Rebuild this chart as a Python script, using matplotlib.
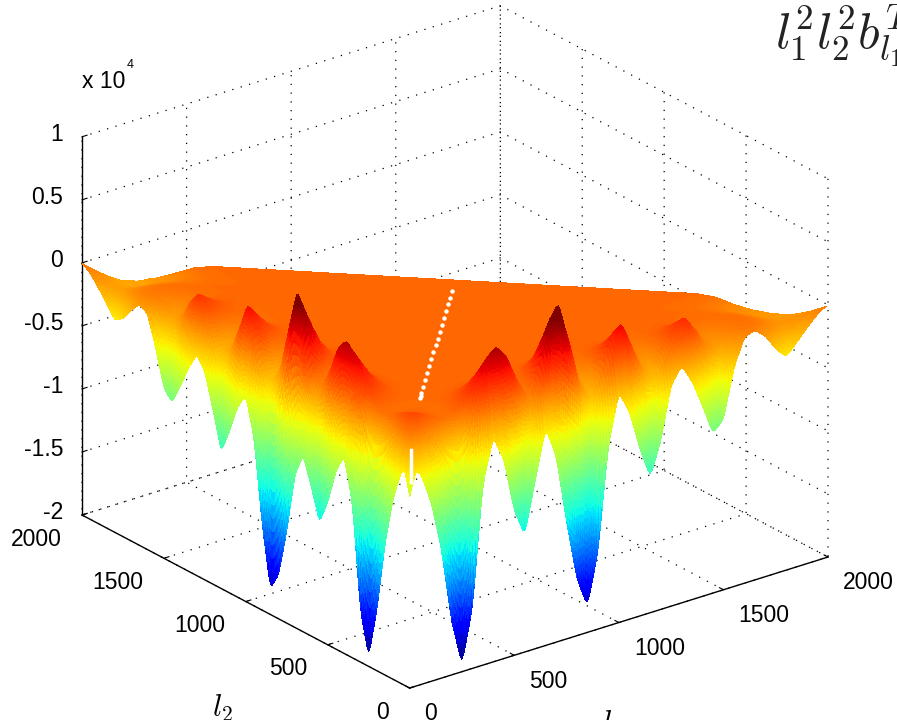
import numpy as np
import matplotlib
matplotlib.use('Agg')
import matplotlib.pyplot as plt
from matplotlib.transforms import ScaledTranslation
from mpl_toolkits.mplot3d import proj3d

plt.rcParams['font.family'] = ['Liberation Sans', 'DejaVu Sans']
plt.rcParams['mathtext.fontset'] = 'cm'

# depth along the two front edges of the surface, in units of 10^4, read every 50 in l
edge_l = np.arange(0, 2001, 50)
edge_l2 = [-0.25, -0.4, -0.62, -1.0, -1.55, -1.95, -1.62, -0.8, -0.47, -0.62,
           -0.9, -1.09, -0.85, -0.63, -0.82, -1.3, -1.68, -1.82, -1.35, -0.7,
           -0.4, -0.52, -0.75, -0.94, -0.65, -0.38, -0.28, -0.42, -0.6, -0.76,
           -0.68, -0.4, -0.16, -0.12, -0.2, -0.3, -0.34, -0.24, -0.14, -0.05, 0.0]
edge_l1 = [-0.25, -0.4, -0.62, -1.0, -1.6, -1.97, -1.55, -0.6, -0.25, -0.45,
           -0.88, -1.1, -0.7, -0.31, -0.55, -1.1, -1.58, -1.82, -1.42, -0.6,
           -0.21, -0.38, -0.7, -0.95, -0.7, -0.28, -0.15, -0.3, -0.52, -0.76,
           -0.68, -0.3, -0.08, -0.05, -0.12, -0.25, -0.33, -0.24, -0.14, -0.05, 0.0]
# height of the crests just behind the front edges
crest_l2 = [0.05, 0.05, 0.03, 0.0, -0.02, 0.0, 0.08, 0.2, 0.32, 0.39,
            0.3, 0.08, -0.08, 0.05, 0.42, 0.58, 0.25, -0.1, -0.25, -0.1,
            0.15, 0.27, 0.05, -0.15, -0.2, -0.05, 0.08, 0.15, 0.05, -0.1,
            -0.15, -0.1, -0.05, -0.04, -0.06, -0.08, -0.1, -0.08, -0.05, -0.02, 0.0]
crest_l1 = [0.05, 0.05, 0.03, 0.0, -0.02, 0.0, 0.08, 0.2, 0.33, 0.41,
            0.32, 0.1, -0.06, 0.08, 0.47, 0.6, 0.28, -0.08, -0.22, -0.08,
            0.18, 0.29, 0.08, -0.12, -0.18, -0.03, 0.1, 0.18, 0.06, -0.08,
            -0.13, -0.08, -0.03, -0.02, -0.04, -0.06, -0.08, -0.06, -0.04, -0.02, 0.0]
# how both profiles weigh with the distance d from the edge
fade_d = [0, 15, 30, 50, 80, 130, 180, 250]
edge_fade = [1.0, 0.55, 0.15, 0.0, 0.0, 0.0, 0.0, 0.0]
crest_fade = [0.0, 0.45, 0.85, 1.0, 0.75, 0.35, 0.1, 0.0]
# the flat part sits a little above zero
flat_z = 0.03
# sag of the far edge near the two end corners
sag_l = [0, 50, 100, 150, 200, 250, 300, 350]
sag_l1 = [-0.03, -0.08, -0.12, -0.13, -0.11, -0.07, -0.02, 0.0]
sag_l2 = [-0.03, -0.07, -0.1, -0.11, -0.1, -0.07, -0.02, 0.0]
sag_s = [0, 60, 150, 250]
sag_fade = [1.0, 0.9, 0.4, 0.0]
# white missing points on the diagonal l1 = l2, and the slit next to the corner
gap_l = [225, 240, 255, 300, 345, 390, 435, 480, 525, 570, 615, 660, 705, 750, 795, 840, 885, 930]
slit_l = [40, 40, 40, 40, 40, 40]
slit_z = [-0.16, -0.21, -0.26, -0.31, -0.36, -0.41]

l_ticks = [0, 500, 1000, 1500, 2000]
z_ticks = [-2, -1.5, -1, -0.5, 0, 0.5, 1]
z_labels = ['-2', '-1.5', '-1', '-0.5', '0', '0.5', '1']


def profile(l, values):
    # light smoothing so the read knots do not show as kinks
    fine = np.arange(0, 2001, 10)
    y = np.interp(fine, edge_l, values)
    y = np.convolve(np.pad(y, 1, mode='edge'), np.array([1, 2, 1]) / 4, mode='valid')
    return np.interp(l, fine, y)


# surface on the triangle l1 + l2 <= 2000, finer close to the edges
grid = np.concatenate([np.arange(0, 60, 2), np.arange(60, 100, 5), np.arange(100, 2001, 10)])
U, V = np.meshgrid(grid, grid / 2000)
L1 = U
L2 = V * (2000 - U)
Z = (flat_z
     + profile(L2, edge_l2) * np.interp(L1, fade_d, edge_fade)
     + profile(L1, edge_l1) * np.interp(L2, fade_d, edge_fade)
     + profile(L2, crest_l2) * np.interp(L1, fade_d, crest_fade)
     + profile(L1, crest_l1) * np.interp(L2, fade_d, crest_fade)
     + (np.interp(L1, sag_l, sag_l1) + np.interp(L2, sag_l, sag_l2))
     * np.interp(2000 - L1 - L2, sag_s, sag_fade))

fig = plt.figure(figsize=(8.97, 7.2), dpi=100)
ax = fig.add_subplot(111, projection='3d', proj_type='ortho', computed_zorder=False)
ax.view_init(elev=24.0, azim=-127.6)
ax.set_box_aspect((528, 537, 414))
ax.set_xlim(0, 2000, view_margin=0)
ax.set_ylim(0, 2000, view_margin=0)
ax.set_zlim(-2, 1, view_margin=0)

ax.plot_surface(L1, L2, Z, cmap='jet', vmin=-1.9, vmax=0.52, rstride=1, cstride=1,
                linewidth=0, antialiased=False, shade=False, zorder=2)
ax.plot(gap_l, gap_l, np.full(len(gap_l), flat_z), ls='none', marker='o', ms=2.2, color='white', zorder=3)
ax.plot(slit_l, slit_l, slit_z, color='white', lw=2.5, zorder=3)

for axis in (ax.xaxis, ax.yaxis, ax.zaxis):
    axis.set_pane_color((1, 1, 1, 1))
    axis.pane.set_edgecolor('none')
    axis._axinfo['grid'].update(color='black', linestyle=(0, (1, 6)), linewidth=0.9)
    axis._axinfo['tick'].update(inward_factor=0.0, outward_factor=0.15)
    axis._axinfo['axisline']['color'] = (0, 0, 0, 1)
    axis.line.set_linewidth(1.0)

ax.set_xticks(l_ticks)
ax.set_yticks(l_ticks)
ax.set_zticks(z_ticks)
ax.set_xticklabels([str(t) for t in l_ticks], ha='left')
ax.set_yticklabels([str(t) for t in l_ticks], ha='right')
ax.set_zticklabels(z_labels, ha='right')
ax.tick_params(labelsize=16.5, pad=12)
ax.zaxis.set_ticks_position('upper')


def shift_labels(axis, dx, dy):
    # MATLAB puts the labels elsewhere than the native pad direction, dx dy in pixels
    offset = ax.transData + ScaledTranslation(dx / 100, dy / 100, fig.dpi_scale_trans)
    for tick in axis.get_major_ticks():
        tick.label1.set_transform(offset)
        # the 3d axis resets the transform at every draw
        tick.label1.set_transform = lambda t: None


shift_labels(ax.xaxis, -6, 21)
shift_labels(ax.yaxis, 6, 20)
shift_labels(ax.zaxis, 29, 11)

# place the axes so the box corners land where they are in the picture
M = ax.get_proj()
x0, y0, _ = proj3d.proj_transform(0, 2000, -2, M)
x1, y1, _ = proj3d.proj_transform(2000, 0, -2, M)
xmin, xmax = ax.viewLim.intervalx
ymin, ymax = ax.viewLim.intervaly
scale = (828 - 82) / (x1 - x0)
side = scale * (xmax - xmin)
left = 82 - (x0 - xmin) * scale
bottom = (720 - 515) - (y0 - ymin) * scale
ax.set_position([left / 897, bottom / 720, side / 897, side / 720])

fig.text(82 / 897, 1 - 88 / 720, 'x 10', fontsize=16.5)
fig.text(127 / 897, 1 - 68 / 720, '4', fontsize=9)
fig.text(775 / 897, 1 - 48 / 720, r'$l_1^2l_2^2b_{l_1l_2l_3}^{T}$', fontsize=36, color='#222222')
fig.text(222 / 897, 1 - 708 / 720, r'$l_2$', fontsize=22, ha='center', va='center')
fig.text(612 / 897, 1 - 724 / 720, r'$l_1$', fontsize=22, ha='center', va='center')

fig.savefig('out.png', dpi=100)
